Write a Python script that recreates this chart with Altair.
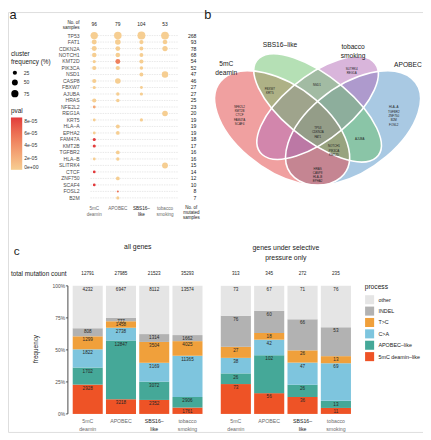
import altair as alt
import numpy as np
import pandas as pd

FONT = "Liberation Sans"
W, H = 423, 428


def fx(x):
    return (x - 1) * 0.98


def fy(y):
    return (y - 3) * 0.97


# ---------------------------------------------------------------- data: panel a
signatures = ["5mC deamin", "APOBEC", "SBS16–like", "tobacco smoking"]
sig_labels = ["5mC\ndeamin", "APOBEC", "SBS16–\nlike", "tobacco\nsmoking"]
n_samples = [96, 79, 104, 53]
genes = ["TP53", "FAT1", "CDKN2A", "NOTCH1", "KMT2D", "PIK3CA", "NSD1", "CASP8",
         "FBXW7", "AJUBA", "HRAS", "NFE2L2", "REG1A", "KRT5", "HLA–A", "EPHA2",
         "FAM47A", "KMT2B", "TGFBR2", "HLA–B", "SLITRK4", "CTCF", "ZNF750",
         "SCAF4", "FOSL2", "B2M"]
n_mutated = [268, 93, 78, 68, 54, 52, 47, 46, 27, 27, 25, 23, 20, 19, 19, 19,
             18, 17, 16, 16, 15, 14, 12, 10, 8, 7]
N = None
freq_5mc = [78, 35, 35, 30, 15, 25, N, 25, 15, N, 25, 12, N, 12, N, 12, 14, 14,
            N, 12, N, 11, N, 11, N, N]
freq_apobec = [82, 45, 33, 30, 35, 25, N, 45, N, 18, 18, N, N, N, 22, 20, N, N,
               20, 17, N, N, 20, N, 6, 14]
freq_sbs16 = [90, 26, 22, 22, 25, 18, 22, N, 12, 15, N, N, N, 15, N, N, N, N,
              N, N, N, N, N, N, N, N]
freq_tobacco = [88, 30, 40, N, N, N, 60, N, N, N, N, N, 45, N, N, N, N, N,
                N, N, 50, N, N, N, N, N]
pval_5mc = [0, 0, 0, 0, 0, 0, 0, 0, 0, 0, 0, 2.5e-5, 0, 0, 0, 0, 8.6e-5, 8.4e-5,
            0, 0, 0, 8.6e-5, 0, 8.6e-5, 0, 0]
pval_apobec = [0, 0, 0, 0, 5.0e-5, 0, 0, 0, 0, 0, 0, 0, 0, 0, 0, 0, 0, 0,
               0, 0, 0, 0, 0, 0, 6.0e-5, 0]
pval_sbs16 = [0] * 26
pval_tobacco = [0] * 26

# ---------------------------------------------------------------- data: panel b
venn_sets = ["5mC deamin", "SBS16–like", "tobacco smoking", "APOBEC"]
venn_set_labels = ["5mC\ndeamin", "SBS16–like", "tobacco\nsmoking", "APOBEC"]
venn_cx = [0.35, 0.50, 0.50, 0.65]
venn_cy = [0.47, 0.57, 0.57, 0.47]
venn_a = [0.35, 0.35, 0.33, 0.35]
venn_b = [0.20, 0.15, 0.15, 0.20]
venn_rot = [135, 135, 45, 45]
venn_colors = ["#E14141", "#6BC16B", "#B36BB7", "#5393C7"]
venn_draw_order = [2, 4, 3, 1]
venn_label_u = [0.114, 0.341, 0.650, 0.882]
venn_label_v = [0.786, 0.883, 0.871, 0.785]
venn_genes = ["NFE2L2\nKMT2B\nCTCF\nFAM47A\nSCAF4", "FBXW7\nKRT5", "NSD1",
              "SLITRK4\nREG1A", "HLA–A\nTGFBR2\nZNF750\nB2M\nFOSL2",
              "TP53\nCDKN2A\nFAT1", "NOTCH1\nPIK3CA\nKMT2D", "AJUBA",
              "HRAS\nCASP8\nHLA–B\nEPHA2"]
venn_genes_u = [0.170, 0.298, 0.497, 0.644, 0.822, 0.501, 0.569, 0.678, 0.500]
venn_genes_v = [0.576, 0.666, 0.683, 0.766, 0.572, 0.469, 0.379, 0.417, 0.268]

# ---------------------------------------------------------------- data: panel c
processes = ["5mC deamin–like", "APOBEC–like", "C>A", "T>C", "INDEL", "other"]
legend_order = ["other", "INDEL", "T>C", "C>A", "APOBEC–like", "5mC deamin–like"]
process_colors = ["#E5E5E5", "#B2B2B2", "#F0A03B", "#7EC5DE", "#45A898", "#EE5326"]
all_5mc = [2928, 1702, 1822, 1299, 808, 4232]
all_apobec = [3218, 12847, 2738, 1458, 777, 6947]
all_sbs16 = [2352, 3072, 3169, 3504, 1314, 8112]
all_tobacco = [1761, 2906, 11365, 4025, 1662, 13574]
sel_5mc = [73, 26, 38, 27, 76, 73]
sel_apobec = [56, 102, 42, 18, 60, 67]
sel_sbs16 = [36, 26, 47, 26, 66, 71]
sel_tobacco = [11, 13, 69, 13, 53, 76]
totals_all = [12791, 27985, 21523, 35293]
totals_sel = [313, 345, 272, 235]
freq_ticks = [0, 0.25, 0.5, 0.75, 1]


# ---------------------------------------------------------------- helpers
def note(text, x, y, size, color="#1a1a1a", align="center", baseline="middle",
         angle=None, line_height=None):
    kw = dict(align=align, baseline=baseline, fontSize=size, font=FONT,
              color=color, lineBreak="\n")
    if angle is not None:
        kw["angle"] = angle
    if line_height is not None:
        kw["lineHeight"] = line_height
    return alt.Chart(pd.DataFrame({"t": [text]})).mark_text(**kw).encode(
        text="t:N", x=alt.value(fx(x)), y=alt.value(fy(y)))


# ---------------------------------------------------------------- panel a
rows = []
for sig, fr, pv in zip(signatures,
                       [freq_5mc, freq_apobec, freq_sbs16, freq_tobacco],
                       [pval_5mc, pval_apobec, pval_sbs16, pval_tobacco]):
    for g, f, p in zip(genes, fr, pv):
        if f is not None:
            rows.append({"sig": sig, "gene": g, "freq": f, "pval": p})
df_dots = pd.DataFrame(rows)
df_genes = pd.DataFrame({"gene": genes, "n_mut": n_mutated})
df_sig = pd.DataFrame({"sig": signatures, "n": n_samples, "label": sig_labels})

xa = alt.Scale(type="point", domain=signatures, range=[fx(90.7), fx(164.3)], padding=0)
ya = alt.Scale(type="point", domain=genes, range=[fy(27.7), fy(198.3)], padding=0)

grid = alt.Chart(df_genes).mark_rule(color="#D9D9D9", strokeWidth=0.6, strokeDash=[1.5, 1]).encode(
    y=alt.Y("gene:N", scale=ya, axis=None),
    x=alt.value(fx(86.7)), x2=alt.value(fx(178)))

dots = alt.Chart(df_dots).mark_circle(opacity=1).encode(
    x=alt.X("sig:N", scale=xa, axis=None),
    y=alt.Y("gene:N", scale=ya, axis=None),
    size=alt.Size("freq:Q", scale=alt.Scale(domain=[0, 100], range=[0, 72]),
                  legend=alt.Legend(title=["cluster", "frequency (%)"], orient="none",
                                    legendX=3, legendY=fy(44.5), values=[25, 50, 75],
                                    titleFont=FONT, titleFontSize=6.5, titleFontWeight="normal",
                                    titleColor="#1a1a1a", titleLineHeight=7.5, titlePadding=5,
                                    labelFont=FONT, labelFontSize=5.2, labelColor="#333333",
                                    labelOffset=5, rowPadding=3.5, symbolFillColor="black",
                                    symbolStrokeWidth=0, symbolOpacity=1)),
    color=alt.Color("pval:Q",
                    scale=alt.Scale(domain=[0, 8.6e-5], range=["#F6CE92", "#E2393B"],
                                    interpolate="lab"),
                    legend=alt.Legend(title="pval", orient="none", legendX=3,
                                      legendY=fy(104), direction="vertical",
                                      gradientLength=fy(169.3) - fy(114.3),
                                      gradientThickness=11.5, gradientStrokeWidth=0,
                                      values=[0, 2e-5, 4e-5, 6e-5, 8e-5],
                                      labelExpr="datum.value == 0 ? '0e+00' : format(datum.value * 100000, '.0f') + 'e-05'",
                                      titleFont=FONT, titleFontSize=6.5, titleFontWeight="normal",
                                      titleColor="#1a1a1a", titlePadding=3,
                                      labelFont=FONT, labelFontSize=5.2, labelColor="#333333",
                                      labelOffset=2)))

gene_txt = alt.Chart(df_genes).mark_text(align="right", baseline="middle", fontSize=5.2,
                                         font=FONT, color="#4D4D4D").encode(
    y=alt.Y("gene:N", scale=ya, axis=None), x=alt.value(fx(75.5)), text="gene:N")
count_txt = alt.Chart(df_genes).mark_text(align="right", baseline="middle", fontSize=5.2,
                                          font=FONT, color="#1a1a1a").encode(
    y=alt.Y("gene:N", scale=ya, axis=None), x=alt.value(fx(197)), text="n_mut:Q")
head_txt = alt.Chart(df_sig).mark_text(baseline="middle", fontSize=5, font=FONT,
                                       color="#1a1a1a").encode(
    x=alt.X("sig:N", scale=xa, axis=None), y=alt.value(fy(15.3)), text="n:Q")
bottom_a = alt.Chart(df_sig).mark_text(baseline="middle", fontSize=4.7, font=FONT,
                                       lineBreak="\n", lineHeight=5.5).encode(
    x=alt.X("sig:N", scale=xa, axis=None), y=alt.value(fy(210.5)), text="label:N",
    color=alt.condition("datum.sig === 'SBS16–like'", alt.value("#1a1a1a"), alt.value("#6B6B6B")))

panel_a = alt.layer(grid, dots, gene_txt, count_txt, head_txt, bottom_a)

# ---------------------------------------------------------------- panel b
sx = fx(446) - fx(200)
sy = fy(224) - fy(13)


def ellipse_path(a, b, rot):
    k = 0.5522847498
    th = np.deg2rad(rot)
    m = np.array([[sx * a * np.cos(th), -sx * b * np.sin(th)],
                  [-sy * a * np.sin(th), -sy * b * np.cos(th)]])
    pts = [(1, 0), (1, k), (k, 1), (0, 1), (-k, 1), (-1, k), (-1, 0),
           (-1, -k), (-k, -1), (0, -1), (k, -1), (1, -k), (1, 0)]
    tp = [m @ np.array(p) for p in pts]
    d = "M %.2f %.2f" % (tp[0][0], tp[0][1])
    for i in range(1, 13, 3):
        d += " C " + " ".join("%.2f %.2f" % (tp[j][0], tp[j][1]) for j in (i, i + 1, i + 2))
    return d + " Z"


venn_paths = [ellipse_path(a, b, r) for a, b, r in zip(venn_a, venn_b, venn_rot)]
df_venn = pd.DataFrame({"set": venn_sets, "cx": venn_cx, "cy": venn_cy,
                        "draw": venn_draw_order}).sort_values("draw")
xb = alt.Scale(domain=[0, 1], range=[fx(200), fx(446)], zero=False, nice=False)
yb = alt.Scale(domain=[0, 1], range=[fy(224), fy(13)], zero=False, nice=False)
shape_scale = alt.Scale(domain=venn_sets, range=venn_paths)

fills = alt.Chart(df_venn).mark_point(filled=True, size=4, opacity=1, fillOpacity=0.5,
                                      strokeWidth=0).encode(
    x=alt.X("cx:Q", scale=xb, axis=None), y=alt.Y("cy:Q", scale=yb, axis=None),
    shape=alt.Shape("set:N", scale=shape_scale, legend=None),
    color=alt.Color("set:N", scale=alt.Scale(domain=venn_sets, range=venn_colors), legend=None),
    order=alt.Order("draw:Q"))
outlines = alt.Chart(df_venn).mark_point(filled=False, size=4, opacity=1, color="white",
                                         strokeWidth=1.6).encode(
    x=alt.X("cx:Q", scale=xb, axis=None), y=alt.Y("cy:Q", scale=yb, axis=None),
    shape=alt.Shape("set:N", scale=shape_scale, legend=None))
df_vg = pd.DataFrame({"t": venn_genes, "u": venn_genes_u, "v": venn_genes_v})
venn_gene_txt = alt.Chart(df_vg).mark_text(fontSize=3.0, lineHeight=4.4, lineBreak="\n",
                                           baseline="middle", font=FONT, color="#222222").encode(
    x=alt.X("u:Q", scale=xb, axis=None), y=alt.Y("v:Q", scale=yb, axis=None), text="t:N")
df_vl = pd.DataFrame({"t": venn_set_labels, "u": venn_label_u, "v": venn_label_v})
venn_set_txt = alt.Chart(df_vl).mark_text(fontSize=6.8, lineHeight=9, lineBreak="\n",
                                          baseline="middle", font=FONT, color="#1a1a1a").encode(
    x=alt.X("u:Q", scale=xb, axis=None), y=alt.Y("v:Q", scale=yb, axis=None), text="t:N")
panel_b = alt.layer(fills, outlines, venn_gene_txt, venn_set_txt)


# ---------------------------------------------------------------- panel c
def stack_frame(values_by_sig, totals):
    out = []
    for sig, lab, vals, tot in zip(signatures, sig_labels, values_by_sig, totals):
        s = sum(vals)
        cum = 0
        for proc, v in zip(processes, vals):
            out.append({"sig": sig, "label": lab, "process": proc, "count": v,
                        "y0": cum / s, "y1": (cum + v) / s, "total": tot})
            cum += v
    return pd.DataFrame(out)


df_all = stack_frame([all_5mc, all_apobec, all_sbs16, all_tobacco], totals_all)
df_sel = stack_frame([sel_5mc, sel_apobec, sel_sbs16, sel_tobacco], totals_sel)
yc = alt.Scale(domain=[0, 1], range=[fy(425.3), fy(290.7)], zero=False, nice=False)
proc_scale = alt.Scale(domain=legend_order, range=process_colors)


def bar_panel(df, x0, x1, legend, extra=()):
    xs = alt.Scale(type="band", domain=signatures, range=[fx(x0), fx(x1)],
                   paddingInner=0.097, paddingOuter=0)
    bars = alt.Chart(df).mark_bar().encode(
        x=alt.X("sig:N", scale=xs, axis=None),
        y=alt.Y("y1:Q", scale=yc, axis=None), y2="y0:Q",
        color=alt.Color("process:N", scale=proc_scale, legend=legend))
    labels = alt.Chart(df).mark_text(baseline="top", dy=1.2, fontSize=4.7, font=FONT,
                                     color="#262626").encode(
        x=alt.X("sig:N", scale=xs, axis=None), y=alt.Y("y1:Q", scale=yc, axis=None),
        text="count:Q")
    tops = alt.Chart(df[df["process"] == "other"]).mark_text(
        baseline="middle", fontSize=4.7, font=FONT, color="#1a1a1a").encode(
        x=alt.X("sig:N", scale=xs, axis=None), y=alt.value(fy(278.3)), text="total:Q")
    bottoms = alt.Chart(df[df["process"] == "other"]).mark_text(
        baseline="middle", fontSize=5.3, font=FONT, lineBreak="\n", lineHeight=7.6).encode(
        x=alt.X("sig:N", scale=xs, axis=None), y=alt.value(fy(433)), text="label:N",
        color=alt.condition("datum.sig === 'SBS16–like'", alt.value("#1a1a1a"), alt.value("#6B6B6B")))
    return alt.layer(bars, labels, tops, bottoms, *extra)


# hand-drawn y axis for the left bar panel (through the shared y scale)
df_ticks = pd.DataFrame({"v": freq_ticks})
axis_line = alt.Chart(pd.DataFrame({"lo": [0.0], "hi": [1.0]})).mark_rule(
    color="#333333", strokeWidth=0.9).encode(
    x=alt.value(fx(63.3)), y=alt.Y("lo:Q", scale=yc, axis=None), y2="hi:Q")
axis_ticks = alt.Chart(df_ticks).mark_rule(color="#333333", strokeWidth=0.8).encode(
    x=alt.value(fx(61.2)), x2=alt.value(fx(63.3)), y=alt.Y("v:Q", scale=yc, axis=None))
axis_labels = alt.Chart(df_ticks).mark_text(align="right", baseline="middle", fontSize=5,
                                            font=FONT, color="#4D4D4D").encode(
    x=alt.value(fx(60.3)), y=alt.Y("v:Q", scale=yc, axis=None),
    text=alt.Text("v:Q", format=".0%"))

proc_legend = alt.Legend(title="process", orient="none", legendX=fx(372), legendY=fy(289),
                         symbolType="square", symbolSize=85, symbolStrokeWidth=0,
                         titleFont=FONT, titleFontSize=6.8, titleFontWeight="normal",
                         titleColor="#1a1a1a", titlePadding=4,
                         labelFont=FONT, labelFontSize=5.5, labelColor="#1a1a1a",
                         labelOffset=4, rowPadding=1.6)
panel_c1 = bar_panel(df_all, 68.3, 203.3, None, (axis_line, axis_ticks, axis_labels))
panel_c2 = bar_panel(df_sel, 222.3, 357.7, proc_legend)

# ---------------------------------------------------------------- annotations
notes = [
    note("a", 2.5, 10.7, 13, align="left", baseline="alphabetic"),
    note("b", 205, 10, 13, align="left", baseline="alphabetic"),
    note("c", 7, 258.3, 12, align="left", baseline="alphabetic"),
    note("No. of\nsamples", 75.5, 14.7, 4.6, align="right", line_height=5.3),
    note("No. of\nmutated\nsamples", 191.7, 209.3, 4.6, line_height=5),
    note("all genes", 136, 250, 7),
    note("genes under selective\npressure only", 290, 250.5, 7, line_height=11),
    note("total mutation count", 33, 278.3, 6.5),
    note("frequency", 30, 357, 6.5, angle=270),
]

chart = alt.layer(panel_a, panel_b, panel_c1, panel_c2, *notes).resolve_scale(
    x="independent", y="independent", color="independent", size="independent",
    shape="independent"
).properties(
    width=W, height=H, padding=0, autosize=alt.AutoSizeParams(type="none")
).configure_view(stroke=None).configure(font=FONT)

chart.save("out.html", embed_options={"renderer": "svg", "actions": False})
